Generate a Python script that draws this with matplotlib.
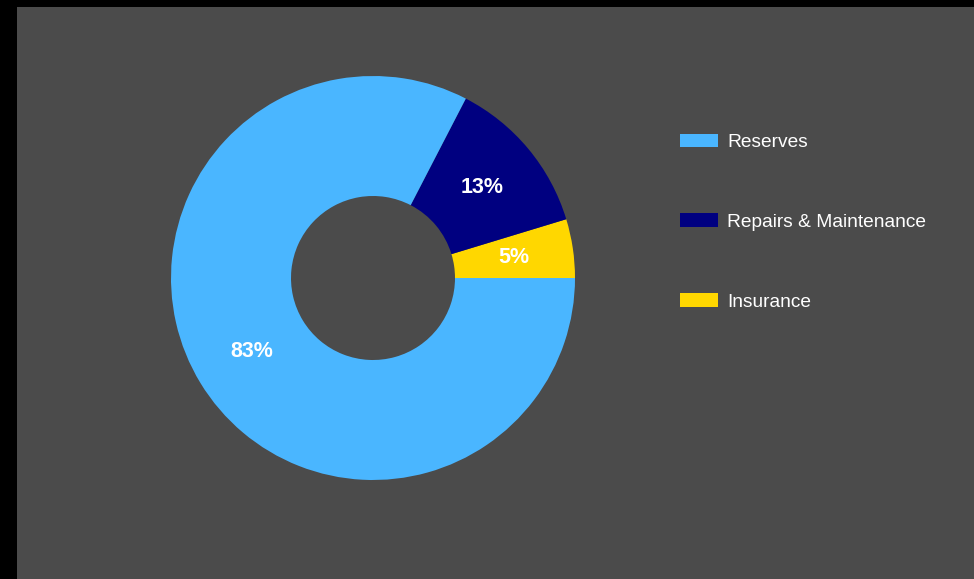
import numpy as np
import matplotlib
matplotlib.use("Agg")
import matplotlib.pyplot as plt

plt.rcParams["font.family"] = ["Liberation Sans", "DejaVu Sans"]

# ── data ───────────────────────────────────────────────────────────────
categories = ["Insurance", "Repairs & Maintenance", "Reserves"]
values     = [4.7, 12.7, 82.6]
colors     = ["#FFD700", "#000080", "#4AB6FF"]
legend_order = ["Reserves", "Repairs & Maintenance", "Insurance"]

W, H = 974, 579
fig = plt.figure(figsize=(W / 100, H / 100), dpi=100)
fig.patch.set_facecolor("black")

# gray panel (black strip on left and top)
bg = fig.add_axes([17 / W, 0, (W - 17) / W, (H - 7) / H])
bg.set_facecolor("#4B4B4B")
bg.set_xticks([]); bg.set_yticks([])
for s in bg.spines.values():
    s.set_visible(False)

# donut: centre (373, 278) px, outer radius 202 px, inner 82 px
cx, cy, R = 373, 278, 202
ax = fig.add_axes([(cx - R) / W, (H - cy - R) / H, 2 * R / W, 2 * R / H])
ax.set_facecolor("none")
wedges, _ = ax.pie(values, colors=colors, startangle=0, counterclock=True,
                   radius=1, wedgeprops=dict(width=120 / 202, linewidth=0))
ax.set_xlim(-1, 1); ax.set_ylim(-1, 1)
ax.set_aspect("equal")
ax.axis("off")

rmid = (1 + 82 / 202) / 2
for w, v in zip(wedges, values):
    ang = np.deg2rad((w.theta1 + w.theta2) / 2)
    ax.text(rmid * np.cos(ang), rmid * np.sin(ang), f"{round(v)}%",
            ha="center", va="center", color="white", fontsize=15.5,
            fontweight="bold")

handles = [wedges[categories.index(c)] for c in legend_order]
leg = fig.legend(handles, legend_order, loc="upper left",
                 bbox_to_anchor=(670 / W, 1 - 124 / H), frameon=False,
                 fontsize=13.8, handlelength=1.98, handleheight=0.72,
                 handletextpad=0.5, labelspacing=3.25, borderpad=0)
for t in leg.get_texts():
    t.set_color("white")

fig.savefig("out.png", dpi=100, facecolor=fig.get_facecolor())
